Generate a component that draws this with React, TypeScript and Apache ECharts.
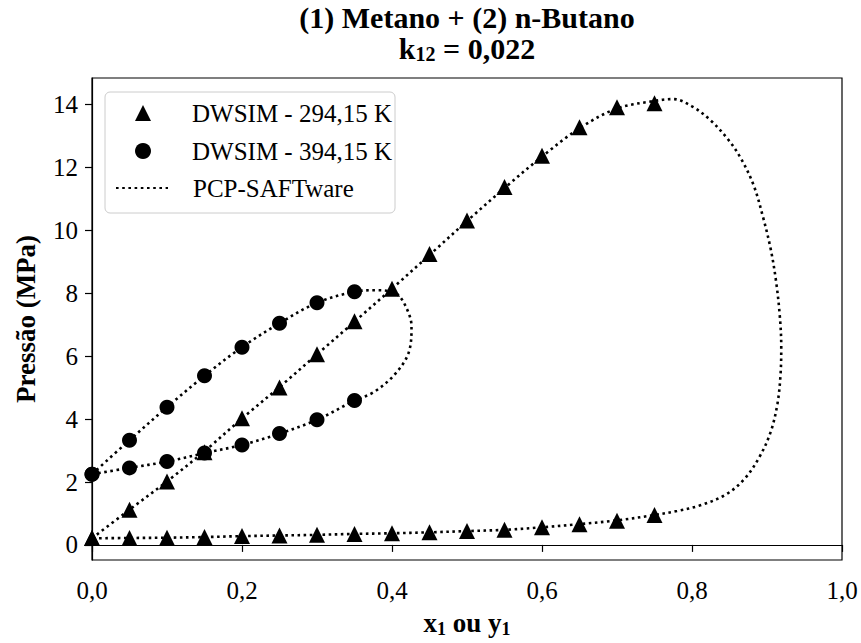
import React, { useEffect, useRef } from "react";
import * as echarts from "echarts";

// Fração molar de metano (x1 ou y1)
const xComp = [0, 0.05, 0.1, 0.15, 0.2, 0.25, 0.3, 0.35, 0.4, 0.45, 0.5, 0.55, 0.6, 0.65, 0.7, 0.75];

// DWSIM 294,15 K — ponto de bolha (curva superior) e ponto de orvalho (curva inferior), MPa
const dw294Bubble = [0.22, 1.12, 2.02, 2.95, 4.03, 5.01, 6.06, 7.11, 8.15, 9.25, 10.32, 11.38, 12.38, 13.28, 13.92, 14.05];
const dw294Dew = [0.22, 0.22, 0.23, 0.25, 0.28, 0.3, 0.32, 0.35, 0.37, 0.4, 0.44, 0.48, 0.56, 0.66, 0.77, 0.95];

// DWSIM 394,15 K — somente até x1 = 0,35
const xComp394 = [0, 0.05, 0.1, 0.15, 0.2, 0.25, 0.3, 0.35];
const dw394Bubble = [2.25, 3.33, 4.38, 5.38, 6.29, 7.05, 7.7, 8.05];
const dw394Dew = [2.25, 2.45, 2.65, 2.92, 3.18, 3.54, 3.98, 4.59];

// PCP-SAFTware 294,15 K: envelope completo (bolha -> crítico -> orvalho)
const saft294X = [0, 0.05, 0.1, 0.15, 0.2, 0.25, 0.3, 0.35, 0.4, 0.45, 0.5, 0.55, 0.6, 0.65, 0.7, 0.75, 0.775, 0.8, 0.825, 0.848, 0.865, 0.882, 0.895, 0.905, 0.912, 0.917, 0.919, 0.918, 0.914, 0.905, 0.89, 0.87, 0.845, 0.81, 0.78, 0.75, 0.7, 0.65, 0.6, 0.55, 0.5, 0.45, 0.4, 0.35, 0.3, 0.25, 0.2, 0.15, 0.1, 0.05, 0];
const saft294P = [0.21, 1.12, 2.02, 2.98, 4.02, 5.02, 6.06, 7.1, 8.15, 9.22, 10.3, 11.35, 12.35, 13.25, 13.88, 14.12, 14.18, 13.95, 13.5, 12.9, 12.3, 11.45, 10.4, 9.4, 8.4, 7.3, 6.3, 5.4, 4.5, 3.6, 2.8, 2.1, 1.6, 1.25, 1.08, 0.95, 0.78, 0.66, 0.56, 0.48, 0.44, 0.4, 0.37, 0.35, 0.32, 0.3, 0.28, 0.25, 0.23, 0.22, 0.21];

// PCP-SAFTware 394,15 K
const saft394X = [0, 0.05, 0.1, 0.15, 0.2, 0.25, 0.3, 0.35, 0.38, 0.405, 0.418, 0.426, 0.422, 0.402, 0.375, 0.35, 0.3, 0.25, 0.2, 0.15, 0.1, 0.05, 0];
const saft394P = [2.25, 3.33, 4.38, 5.38, 6.29, 7.05, 7.7, 8.05, 8.1, 8.0, 7.6, 6.95, 6.1, 5.38, 4.85, 4.59, 3.98, 3.54, 3.18, 2.92, 2.65, 2.45, 2.25];

const yTicks = [0, 2, 4, 6, 8, 10, 12, 14];
const xTicks = [0, 0.2, 0.4, 0.6, 0.8, 1.0];

const LABEL_294 = "DWSIM - 294,15 K";
const LABEL_394 = "DWSIM - 394,15 K";
const LABEL_SAFT = "PCP-SAFTware";

const SERIF = "'Liberation Serif', 'Times New Roman', serif";

const zip = (xs: number[], ys: number[]) => xs.map((x, i) => [x, ys[i]]);

export default function App() {
  const ref = useRef<HTMLDivElement>(null);

  useEffect(() => {
    if (!ref.current) return;
    const chart = echarts.init(ref.current, undefined, { renderer: "svg" });

    const dotted = { color: "#000", width: 2.6, type: [2.6, 3.6] as number[], cap: "butt" as const };
    const legendText = (padLeft: number) => ({
      fontFamily: SERIF,
      fontSize: 25,
      lineHeight: 26,
      color: "#000",
      padding: [0, 0, 0, padLeft],
    });
    const titleBold = { fontFamily: SERIF, fontWeight: "bold" as const, color: "#000" };

    chart.setOption({
      animation: false,
      backgroundColor: "#fff",
      title: [
        {
          left: 467,
          textAlign: "center",
          top: 2,
          padding: 0,
          text: "(1) Metano + (2) n-Butano",
          textStyle: { ...titleBold, fontSize: 30, lineHeight: 30 },
        },
        {
          left: 467,
          textAlign: "center",
          top: 33,
          padding: 0,
          text: "{b|k}{s|12}{b| = 0,022}",
          textStyle: {
            rich: {
              b: { ...titleBold, fontSize: 30, lineHeight: 30 },
              s: { ...titleBold, fontSize: 20, lineHeight: 30, padding: [12, 0, 0, 0] },
            },
          },
        },
      ],
      // legend frame
      graphic: {
        elements: [
          {
            type: "rect",
            z: 150,
            shape: { x: 105, y: 92, width: 290, height: 121, r: 5 },
            style: { fill: "rgba(255,255,255,0.85)", stroke: "#cccccc", lineWidth: 1 },
          },
        ],
      },
      legend: [
        {
          z: 200,
          orient: "vertical",
          left: 135,
          top: 100,
          padding: 0,
          itemWidth: 16,
          itemHeight: 16,
          itemGap: 12,
          data: [
            { name: LABEL_294, icon: "triangle" },
            { name: LABEL_394, icon: "circle" },
          ],
          textStyle: legendText(36),
        },
        {
          z: 200,
          orient: "vertical",
          left: 115,
          top: 175,
          padding: 0,
          itemWidth: 52,
          itemHeight: 16,
          data: [{ name: LABEL_SAFT, itemStyle: { opacity: 0 } }],
          textStyle: legendText(20),
        },
      ],
      grid: {
        left: 92,
        right: 19,
        top: 78,
        bottom: 77,
        show: true,
        borderColor: "#000",
        borderWidth: 1.2,
        backgroundColor: "transparent",
      },
      xAxis: {
        type: "value",
        min: 0,
        max: 1,
        interval: 0.2,
        name: "{b|x}{s|1}{b| ou y}{s|1}",
        nameLocation: "middle",
        nameGap: 49,
        nameTextStyle: {
          rich: {
            b: { fontFamily: SERIF, fontWeight: "bold", fontSize: 27, lineHeight: 28, color: "#000" },
            s: { fontFamily: SERIF, fontWeight: "bold", fontSize: 18, lineHeight: 28, color: "#000", padding: [12, 0, 0, 0] },
          },
        },
        axisLine: { lineStyle: { color: "#000", width: 1.2 } },
        axisTick: { show: true, inside: false, length: 7, lineStyle: { color: "#000", width: 1.2 }, customValues: xTicks },
        axisLabel: {
          customValues: xTicks,
          margin: 18,
          fontFamily: SERIF,
          fontSize: 25,
          color: "#000",
          formatter: (v: number) => v.toFixed(1).replace(".", ","),
        },
        splitLine: { show: false },
      },
      yAxis: {
        type: "value",
        min: -0.48,
        max: 14.85,
        name: "Pressão (MPa)",
        nameLocation: "middle",
        nameGap: 53,
        nameRotate: 90,
        nameTextStyle: { fontFamily: SERIF, fontWeight: "bold", fontSize: 27, color: "#000" },
        axisLine: { show: true, lineStyle: { color: "#000", width: 1.2 } },
        axisTick: { show: true, inside: false, length: 7, lineStyle: { color: "#000", width: 1.2 }, customValues: yTicks },
        axisLabel: {
          customValues: yTicks,
          margin: 14,
          fontFamily: SERIF,
          fontSize: 25,
          color: "#000",
          formatter: (v: number) => String(v),
        },
        splitLine: { show: false },
      },
      series: [
        {
          name: LABEL_SAFT,
          type: "line",
          data: zip(saft294X, saft294P),
          showSymbol: false,
          symbol: "none",
          smooth: 0.35,
          lineStyle: dotted,
          itemStyle: { color: "#000" },
          z: 2,
        },
        {
          name: LABEL_SAFT,
          type: "line",
          data: zip(saft394X, saft394P),
          showSymbol: false,
          symbol: "none",
          smooth: 0.35,
          lineStyle: dotted,
          itemStyle: { color: "#000" },
          z: 2,
        },
        {
          name: LABEL_294,
          type: "scatter",
          symbol: "triangle",
          symbolSize: 16,
          itemStyle: { color: "#000", opacity: 1 },
          data: [...zip(xComp, dw294Bubble), ...zip(xComp, dw294Dew)],
          z: 3,
        },
        {
          name: LABEL_394,
          type: "scatter",
          symbol: "circle",
          symbolSize: 15,
          itemStyle: { color: "#000", opacity: 1 },
          data: [...zip(xComp394, dw394Bubble), ...zip(xComp394, dw394Dew)],
          z: 3,
        },
      ],
    });

    return () => chart.dispose();
  }, []);

  return <div ref={ref} style={{ width: 861, height: 643, position: "absolute", left: 0, top: 0 }} />;
}
